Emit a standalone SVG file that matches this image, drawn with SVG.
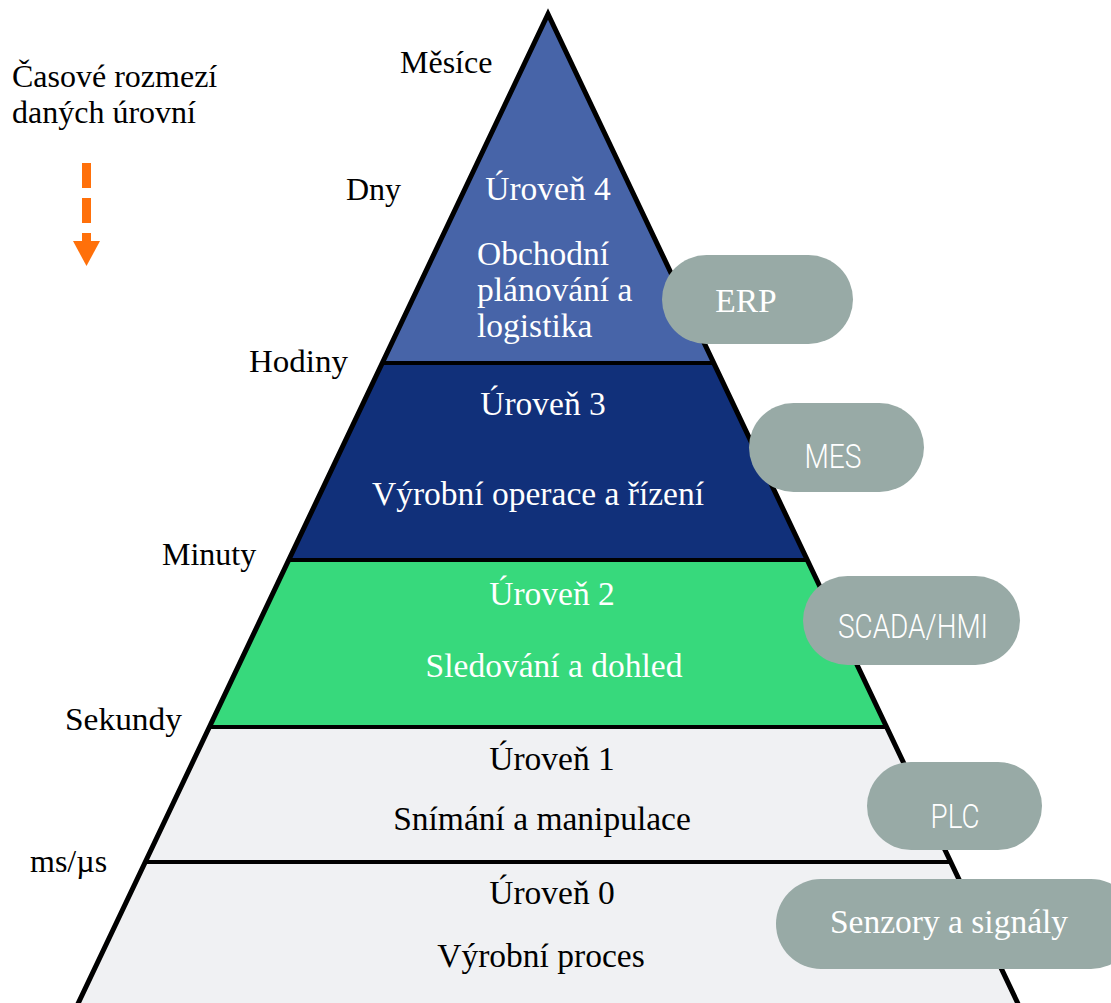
<svg xmlns="http://www.w3.org/2000/svg" width="1111" height="1003" viewBox="0 0 1111 1003">
<style>
.serif{font-family:"Liberation Serif","Times New Roman",serif;font-size:32px}
.big{font-size:33.5px}
.blk{fill:#000}
.wht{fill:#fff}
.mid{text-anchor:middle}
.sans{font-family:Roboto,"Liberation Sans",sans-serif;font-size:34px;font-weight:300;fill:#fff;text-anchor:middle}
.pill{fill:#98aaa6}
.sep{stroke:#000;stroke-width:4}
</style>
<defs>
<clipPath id="tri"><polygon points="548,14 75,1010 1021,1010"/></clipPath>
</defs>
<rect width="1111" height="1003" fill="#fff"/>

<g id="legend">
<text class="serif blk" x="12" y="87">Časové rozmezí</text>
<text class="serif blk" x="12" y="123">daných úrovní</text>
</g>
<g id="time-arrow" fill="#ff700a">
<rect x="82" y="163" width="9" height="25"/>
<rect x="82" y="198" width="9" height="25"/>
<rect x="82" y="233" width="9" height="9"/>
<polygon points="73,241 100,241 86.5,266"/>
</g>

<g id="time-labels">
<text class="serif blk" x="400" y="73">Měsíce</text>
<text class="serif blk" x="346" y="200">Dny</text>
<text class="serif blk" x="249" y="372" textLength="99" lengthAdjust="spacingAndGlyphs">Hodiny</text>
<text class="serif blk" x="162" y="565">Minuty</text>
<text class="serif blk" x="65" y="730" textLength="117" lengthAdjust="spacingAndGlyphs">Sekundy</text>
<text class="serif blk" x="30" y="872">ms/µs</text>
</g>

<g id="pyramid" clip-path="url(#tri)">
<rect x="0" y="0" width="1111" height="363" fill="#4764a8"/>
<rect x="0" y="363" width="1111" height="197" fill="#11307a"/>
<rect x="0" y="560" width="1111" height="167" fill="#37d97c"/>
<rect x="0" y="727" width="1111" height="300" fill="#f0f1f3"/>
<line class="sep" x1="0" y1="363" x2="1111" y2="363"/>
<line class="sep" x1="0" y1="560" x2="1111" y2="560"/>
<line class="sep" x1="0" y1="727" x2="1111" y2="727"/>
<line class="sep" x1="0" y1="862" x2="1111" y2="862"/>
</g>
<polygon points="548,14 75,1010 1021,1010" fill="none" stroke="#000" stroke-width="5"/>

<g id="level4">
<text class="serif big wht mid" x="548" y="200">Úroveň 4</text>
<text class="serif big wht" x="477" y="265">Obchodní</text>
<text class="serif big wht" x="477" y="301">plánování a</text>
<text class="serif big wht" x="477" y="337">logistika</text>
</g>
<g id="level3">
<text class="serif big wht mid" x="543" y="415">Úroveň 3</text>
<text class="serif big wht mid" x="538" y="505">Výrobní operace a řízení</text>
</g>
<g id="level2">
<text class="serif big wht mid" x="552" y="605">Úroveň 2</text>
<text class="serif big wht mid" x="554" y="677">Sledování a dohled</text>
</g>
<g id="level1">
<text class="serif big blk mid" x="552" y="770">Úroveň 1</text>
<text class="serif big blk mid" x="542" y="830">Snímání a manipulace</text>
</g>
<g id="level0">
<text class="serif big blk mid" x="552" y="904">Úroveň 0</text>
<text class="serif big blk mid" x="541" y="967">Výrobní proces</text>
</g>

<g id="erp">
<rect class="pill" x="662" y="255" width="191" height="89" rx="44.5"/>
<text class="serif big wht mid" x="746" y="312">ERP</text>
</g>
<g id="mes">
<rect class="pill" x="749" y="403" width="175" height="89" rx="44.5"/>
<text class="sans" x="833" y="468" textLength="57" lengthAdjust="spacingAndGlyphs">MES</text>
</g>
<g id="scada">
<rect class="pill" x="803" y="576" width="217" height="89" rx="44.5"/>
<text class="sans" x="913" y="638" textLength="150" lengthAdjust="spacingAndGlyphs">SCADA/HMI</text>
</g>
<g id="plc">
<rect class="pill" x="867" y="762" width="175" height="88" rx="44"/>
<text class="sans" x="955" y="828" textLength="49" lengthAdjust="spacingAndGlyphs">PLC</text>
</g>
<g id="senzory">
<rect class="pill" x="776" y="879" width="360" height="90" rx="45"/>
<text class="serif big wht mid" x="949" y="933">Senzory a signály</text>
</g>
<g id="connectors"/>
</svg>
